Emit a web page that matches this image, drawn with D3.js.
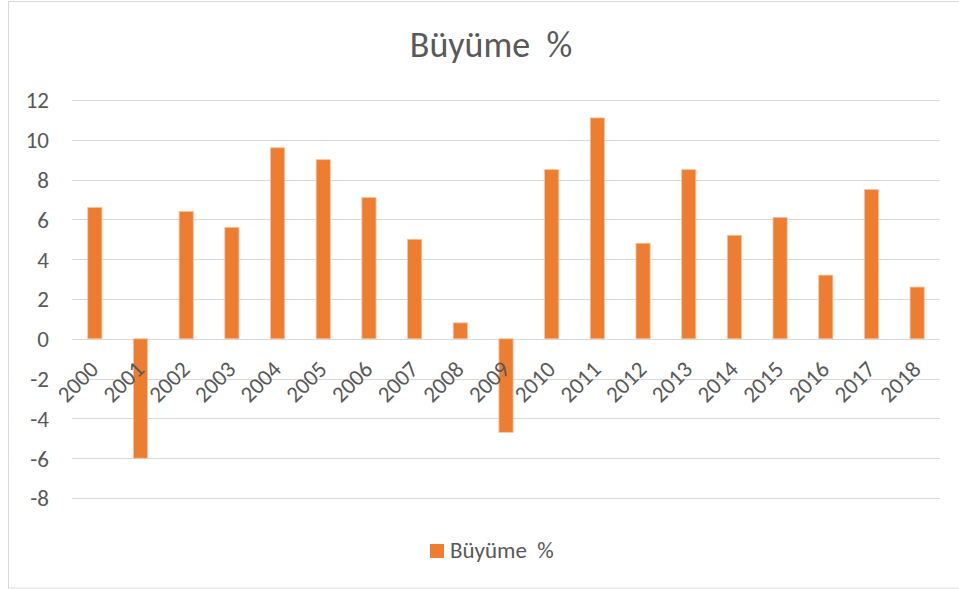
<!DOCTYPE html>
<html>
<head>
<meta charset="utf-8">
<script src="https://cdn.jsdelivr.net/npm/d3@7"></script>
<style>
  html, body { margin: 0; padding: 0; background: #fff; }
  svg { display: block; }
  svg text { font-family: Carlito, Calibri, "Liberation Sans", sans-serif; white-space: pre; }
</style>
</head>
<body>
<svg id="chart" width="959" height="589"></svg>
<script>
const years = ["2000","2001","2002","2003","2004","2005","2006","2007","2008","2009","2010","2011","2012","2013","2014","2015","2016","2017","2018"];
const growth = [6.6, -6.0, 6.4, 5.6, 9.6, 9.0, 7.1, 5.0, 0.8, -4.7, 8.5, 11.1, 4.8, 8.5, 5.2, 6.1, 3.2, 7.5, 2.6];
const yTicks = [-8, -6, -4, -2, 0, 2, 4, 6, 8, 10, 12];
const seriesName = "Büyüme  %";
const titleText = "Büyüme  %";

const svg = d3.select("#chart");
const W = 959, H = 589;
const margin = { left: 72, right: 19 };
const textColor = "#595959";

// outer border
svg.append("rect")
  .attr("x", 8.5).attr("y", 1.5)
  .attr("width", 960).attr("height", 586.5)
  .attr("fill", "#fff").attr("stroke", "#d9d9d9").attr("stroke-width", 1);

const x = d3.scaleBand()
  .domain(years)
  .range([margin.left, W - margin.right])
  .paddingInner(0.69).paddingOuter(0.345);

const y = d3.scaleLinear()
  .domain([-8, 12])
  .range([498, 100]);

// gridlines
svg.append("g")
  .selectAll("line")
  .data(yTicks)
  .join("line")
  .attr("x1", margin.left).attr("x2", W - margin.right)
  .attr("y1", d => Math.round(y(d)) + 0.5).attr("y2", d => Math.round(y(d)) + 0.5)
  .attr("stroke", "#d9d9d9").attr("stroke-width", 1);

// y axis labels
const yAxis = d3.axisLeft(y).tickValues(yTicks).tickSize(0).tickPadding(0)
  .tickFormat(d => String(d));
const gy = svg.append("g").attr("transform", `translate(${49},0)`).call(yAxis);
gy.attr("font-family", null).attr("font-size", null);
gy.select(".domain").remove();
gy.selectAll("text")
  .attr("fill", textColor)
  .style("font-size", "23px")
  .attr("dy", "0.34em");

// bars
svg.append("g")
  .selectAll("rect")
  .data(years.map((yr, i) => ({ yr, v: growth[i] })))
  .join("rect")
  .attr("x", d => x(d.yr))
  .attr("width", x.bandwidth())
  .attr("y", d => y(Math.max(0, d.v)))
  .attr("height", d => Math.abs(y(d.v) - y(0)))
  .attr("fill", "#ED7D31")
  .attr("stroke", "#f6c3a0")
  .attr("stroke-width", 0.8);

// x axis labels
const xAxis = d3.axisBottom(x).tickSize(0).tickPadding(0);
const gx = svg.append("g").attr("transform", `translate(0,${y(0)})`).call(xAxis);
gx.attr("font-family", null).attr("font-size", null);
gx.select(".domain").remove();
gx.selectAll("text")
  .attr("fill", textColor)
  .style("font-size", "23px")
  .attr("text-anchor", "end")
  .attr("y", 0)
  .attr("dy", "0")
  .attr("transform", "translate(5,32) rotate(-45)");

// title
svg.append("text")
  .attr("x", 491).attr("y", 57)
  .attr("text-anchor", "middle")
  .attr("fill", textColor)
  .style("font-size", "36px")
  .text(titleText);

// legend
const lg = svg.append("g").attr("transform", "translate(430,544)");
lg.append("rect").attr("width", 14).attr("height", 14).attr("fill", "#ED7D31");
lg.append("text").attr("x", 20).attr("y", 14)
  .attr("fill", textColor).style("font-size", "23px").text(seriesName);
</script>
</body>
</html>
